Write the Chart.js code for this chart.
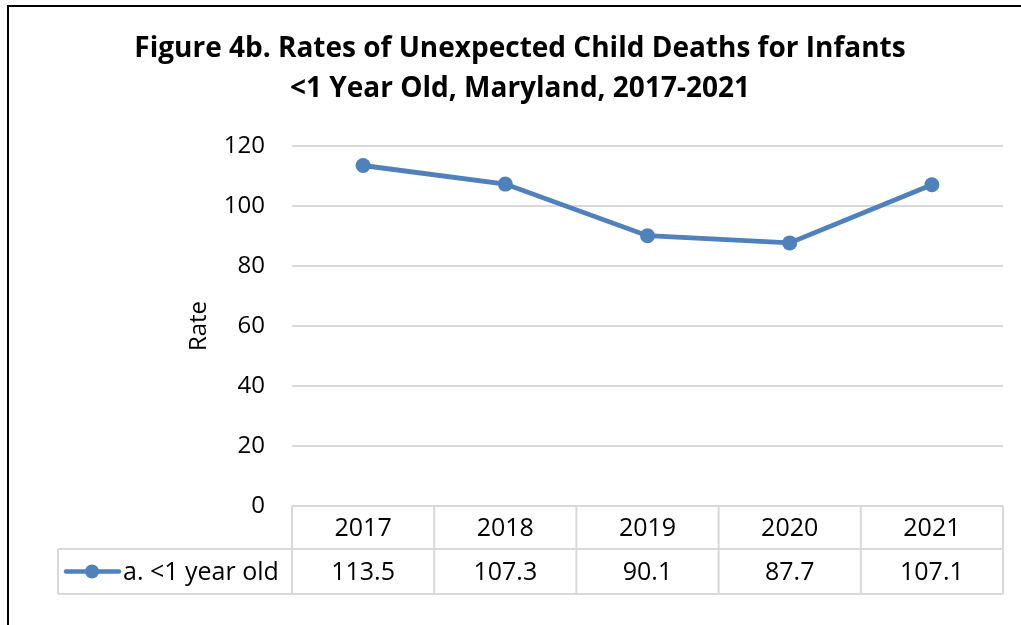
<!DOCTYPE html>
<html>
<head>
<meta charset="utf-8">
<title>Rates of Unexpected Child Deaths for Infants</title>
<script src="https://cdn.jsdelivr.net/npm/chart.js@4"></script>
<style>
  html, body { margin: 0; padding: 0; background: #ffffff; }
  #wrap { width: 1021px; height: 625px; position: relative; }
</style>
</head>
<body>
<div id="wrap"><canvas id="chart" width="1021" height="625"></canvas></div>
<script>
// Data
const years = ['2017', '2018', '2019', '2020', '2021'];
const infantRates = [113.5, 107.3, 90.1, 87.7, 107.1];
const seriesLabel = 'a. <1 year old';
const titleLines = ['Figure 4b. Rates of Unexpected Child Deaths for Infants', '<1 Year Old, Maryland, 2017-2021'];

const FONT = "'Open Sans', 'Noto Sans', sans-serif";
const LINE_COLOR = '#4f81bd';
const GRID_COLOR = '#d9d9d9';

// Frame around the figure plus the two-line heading
const framePlugin = {
  id: 'frame',
  beforeDraw(chart) {
    const ctx = chart.ctx;
    ctx.save();
    ctx.fillStyle = '#ffffff';
    ctx.fillRect(0, 0, chart.width, chart.height);
    ctx.strokeStyle = '#000000';
    ctx.lineWidth = 2;
    ctx.beginPath();
    ctx.moveTo(8, chart.height);
    ctx.lineTo(8, 6);
    ctx.lineTo(chart.width, 6);
    ctx.stroke();

    ctx.fillStyle = '#000000';
    ctx.font = 'bold 28px ' + FONT;
    ctx.textAlign = 'center';
    ctx.textBaseline = 'middle';
    ctx.fillText(titleLines[0], 520, 49);
    ctx.fillText(titleLines[1], 520, 89);
    ctx.restore();
  }
};

// Data table below the plot, laid out on the category scale
const dataTablePlugin = {
  id: 'dataTable',
  afterDraw(chart) {
    const ctx = chart.ctx;
    const xs = chart.scales.x;
    const area = chart.chartArea;
    const step = (area.right - area.left) / years.length;
    const top = area.bottom;
    const mid = top + 43;
    const bottom = mid + 45;
    const legendLeft = 58;

    ctx.save();
    ctx.strokeStyle = GRID_COLOR;
    ctx.lineWidth = 2;
    ctx.beginPath();
    // horizontal rules
    ctx.moveTo(area.left, top); ctx.lineTo(area.right, top);
    ctx.moveTo(legendLeft, mid); ctx.lineTo(area.right, mid);
    ctx.moveTo(legendLeft, bottom); ctx.lineTo(area.right, bottom);
    // vertical rules
    for (let i = 0; i <= years.length; i++) {
      const x = area.left + i * step;
      ctx.moveTo(x, top); ctx.lineTo(x, bottom);
    }
    ctx.moveTo(legendLeft, mid); ctx.lineTo(legendLeft, bottom);
    ctx.stroke();

    ctx.fillStyle = '#000000';
    ctx.font = '25px ' + FONT;
    ctx.textAlign = 'center';
    ctx.textBaseline = 'middle';
    years.forEach((y, i) => {
      const cx = xs.getPixelForValue(i);
      ctx.fillText(y, cx, (top + mid) / 2 + 1);
      ctx.fillText(infantRates[i].toFixed(1), cx, (mid + bottom) / 2 + 1);
    });

    // legend key
    const ky = (mid + bottom) / 2;
    ctx.strokeStyle = LINE_COLOR;
    ctx.lineWidth = 4.5;
    ctx.lineCap = 'round';
    ctx.beginPath();
    ctx.moveTo(66, ky); ctx.lineTo(119, ky);
    ctx.stroke();
    ctx.fillStyle = LINE_COLOR;
    ctx.beginPath();
    ctx.arc(92, ky, 7, 0, Math.PI * 2);
    ctx.fill();
    ctx.fillStyle = '#000000';
    ctx.textAlign = 'left';
    ctx.fillText(seriesLabel, 123, ky + 1);
    ctx.restore();
  }
};

new Chart(document.getElementById('chart'), {
  type: 'line',
  data: {
    labels: years,
    datasets: [{
      label: seriesLabel,
      data: infantRates,
      borderColor: LINE_COLOR,
      backgroundColor: LINE_COLOR,
      borderWidth: 4.8,
      pointRadius: 7.5,
      pointHoverRadius: 7.5,
      pointBorderWidth: 0,
      tension: 0
    }]
  },
  options: {
    responsive: false,
    animation: false,
    layout: { padding: { left: 180, right: 18, top: 146, bottom: 119 } },
    plugins: {
      legend: { display: false },
      tooltip: { enabled: false },
      title: { display: false }
    },
    scales: {
      x: {
        display: false,
        offset: true
      },
      y: {
        min: 0,
        max: 120,
        ticks: {
          stepSize: 20,
          color: '#000000',
          padding: 27,
          font: { family: FONT, size: 24 }
        },
        grid: { color: GRID_COLOR, lineWidth: 2, drawTicks: false },
        border: { display: false },
        title: {
          display: true,
          text: 'Rate',
          color: '#000000',
          font: { family: FONT, size: 24 },
          padding: { top: 5, bottom: 0 }
        },
        afterFit(scale) { scale.width = 112; }
      }
    }
  },
  plugins: [framePlugin, dataTablePlugin]
});
</script>
</body>
</html>
